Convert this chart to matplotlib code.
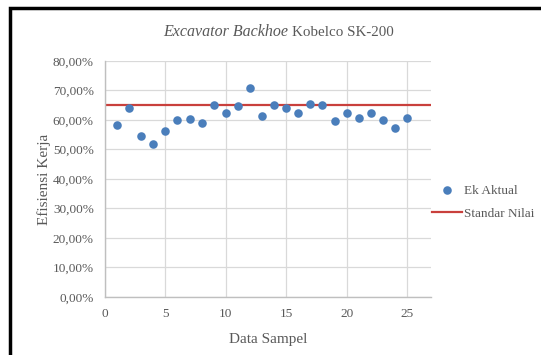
import matplotlib.pyplot as plt
from matplotlib.patches import Rectangle
from matplotlib.ticker import FuncFormatter, MultipleLocator

# data
sampel = list(range(1, 26))
ek_aktual = [58.3, 64.0, 54.4, 51.8, 56.4, 60.0, 60.2, 59.1, 64.9, 62.3,
             64.8, 70.8, 61.5, 64.9, 64.0, 62.3, 65.5, 65.0, 59.5, 62.3,
             60.8, 62.5, 60.0, 57.4, 60.5]
standar_nilai = 65.0

plt.rcParams['font.family'] = ['Liberation Serif', 'DejaVu Serif']
grey = '#595959'

fig = plt.figure(figsize=(5.41, 3.55), dpi=100)
ax = fig.add_axes([0.194, 0.1634, 0.603, 0.665])

ax.scatter(sampel, ek_aktual, s=38, color='#4A7EBB', zorder=3, label='Ek Aktual',
           linewidths=0)
ax.axhline(standar_nilai, color='#C9403C', lw=1.6, zorder=2, label='Standar Nilai')

ax.set_xlim(0, 27)
ax.set_ylim(0, 80)
ax.xaxis.set_major_locator(MultipleLocator(5))
ax.yaxis.set_major_locator(MultipleLocator(10))
ax.yaxis.set_major_formatter(FuncFormatter(lambda v, p: f"{v:.2f}%".replace('.', ',')))
ax.grid(True, color='#D9D9D9', lw=0.9)
ax.set_axisbelow(True)
for s in ['top', 'right']:
    ax.spines[s].set_visible(False)
for s in ['left', 'bottom']:
    ax.spines[s].set_color('#BFBFBF')
    ax.spines[s].set_linewidth(1.0)
ax.tick_params(length=0, labelsize=9.5, labelcolor=grey, pad=8)

ax.set_xlabel('Data Sampel', fontsize=11, color=grey, labelpad=9)
ax.set_ylabel('Efisiensi Kerja', fontsize=11, color=grey, labelpad=1)

# title with an italic part
fig.text(288 / 541, 1 - 32 / 355, 'Excavator Backhoe', style='italic', fontsize=11.5,
         color=grey, ha='right', va='center')
fig.text(292 / 541, 1 - 32 / 355, 'Kobelco SK-200', fontsize=10.8,
         color=grey, ha='left', va='center')

leg = ax.legend(loc='center left', bbox_to_anchor=(432 / 541, 1 - 202 / 355),
                bbox_transform=fig.transFigure, frameon=False, fontsize=9.5,
                borderpad=0, borderaxespad=0,
                handlelength=2.3, handletextpad=0.1, labelspacing=0.8)
for t in leg.get_texts():
    t.set_color(grey)

# outer frame (cut off at right and bottom like the reference)
fig.patches.append(Rectangle((10 / 541, -0.1), 1.2, 1 - 8 / 355 + 0.1,
                             transform=fig.transFigure, fill=False,
                             edgecolor='black', lw=2.5))

fig.savefig('out.png', dpi=100)
